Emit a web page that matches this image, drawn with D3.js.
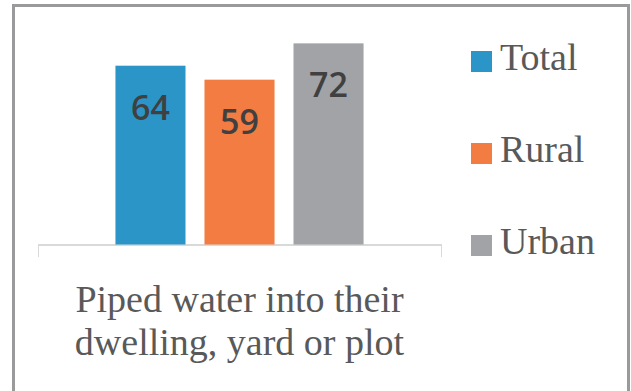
<!DOCTYPE html>
<html>
<head>
<meta charset="utf-8">
<style>
body { margin: 0; background: #fff; }
svg { display: block; }
.axis path, .axis line { stroke: #d9d9d9; stroke-width: 1.5; shape-rendering: crispEdges; }
.axis text { display: none; }
text.serif { font-family: "Liberation Serif", "Times New Roman", Times, serif; }
</style>
<script src="https://cdn.jsdelivr.net/npm/d3@7"></script>
</head>
<body>
<div id="chart"></div>
<script>
var categories = ["Piped water into their dwelling, yard or plot"];
var categoryLines = ["Piped water into their", "dwelling, yard or plot"];
var seriesNames = ["Total", "Rural", "Urban"];
var seriesValues = [64, 59, 72];
var colors = ["#2b95c8", "#f27c41", "#a2a3a7"];

var W = 631, H = 391;

var svg = d3.select("#chart").append("svg")
    .attr("width", W)
    .attr("height", H);

// outer frame (bottom edge is cut off in the original)
svg.append("path")
    .attr("d", "M13.5," + H + "V5.5H628.5V" + H)
    .attr("fill", "none")
    .attr("stroke", "#9a9a9c")
    .attr("stroke-width", 3);

var x0 = d3.scaleBand().domain(categories).range([38, 441]);
var x1 = d3.scaleBand().domain(seriesNames)
    .range([0, x0.bandwidth()])
    .paddingInner(0.213)
    .paddingOuter(0.87);
var y = d3.scaleLinear().domain([0, 80]).range([244.5, 21]);

var xAxis = d3.axisBottom(x0).tickSizeInner(0).tickSizeOuter(12);

svg.append("g")
    .attr("class", "x axis")
    .attr("transform", "translate(0," + y(0) + ")")
    .call(xAxis);

var rows = seriesNames.map(function(name, i) {
  return { name: name, value: seriesValues[i], color: colors[i] };
});

var graph = svg.selectAll(".cat")
    .data(categories)
    .enter()
    .append("g")
      .attr("transform", function(d) { return "translate(" + x0(d) + ",0)"; });

graph.selectAll("rect")
    .data(rows)
    .enter()
    .append("rect")
      .attr("x", function(d) { return x1(d.name); })
      .attr("width", x1.bandwidth())
      .attr("y", function(d) { return y(d.value); })
      .attr("height", function(d) { return y(0) - y(d.value); })
      .style("fill", function(d) { return d.color; });

graph.selectAll(".lbl")
    .data(rows)
    .enter()
    .append("text")
      .attr("x", function(d) { return x1(d.name) + x1.bandwidth() / 2; })
      .attr("y", function(d) { return y(d.value) + 54; })
      .attr("text-anchor", "middle")
      .attr("font-family", "Open Sans")
      .attr("font-weight", 600)
      .attr("font-size", 34)
      .attr("fill", "#404040")
      .text(function(d) { return d.value; });

// category label, two lines
var cx = x0(categories[0]) + x0.bandwidth() / 2;

svg.selectAll(".catlbl")
    .data(categoryLines)
    .enter()
    .append("text")
      .attr("class", "serif")
      .attr("x", cx)
      .attr("y", function(d, i) { return 312 + i * 43; })
      .attr("text-anchor", "middle")
      .attr("font-family", "Liberation Serif")
      .attr("font-size", 38)
      .attr("fill", "#595959")
      .text(function(d) { return d; });

// Legend
var legend = svg.selectAll(".legend")
    .data(rows)
    .enter()
    .append("g")
      .attr("class", "legend")
      .attr("transform", function(d, i) { return "translate(471," + (51 + i * 92) + ")"; });

legend.append("rect")
    .attr("width", 21)
    .attr("height", 21)
    .style("fill", function(d) { return d.color; });

legend.append("text")
    .attr("class", "serif")
    .attr("x", 29)
    .attr("y", 19)
    .attr("font-family", "Liberation Serif")
    .attr("font-size", 38)
    .attr("fill", "#595959")
    .text(function(d) { return d.name; });
</script>
</body>
</html>
